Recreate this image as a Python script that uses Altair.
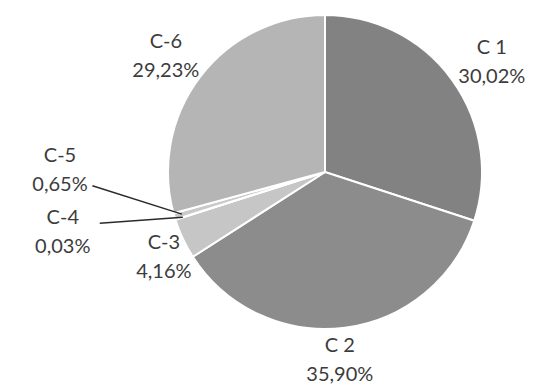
import math
import altair as alt
import pandas as pd

# ---- data ----
categories = ["C 1", "C 2", "C-3", "C-4", "C-5", "C-6"]
values = [30.02, 35.90, 4.16, 0.03, 0.65, 29.23]
value_labels = ["30,02%", "35,90%", "4,16%", "0,03%", "0,65%", "29,23%"]
colors = ["#828282", "#8c8c8c", "#c6c6c6", "#bdbdbd", "#cacaca", "#b5b5b5"]

# ---- layout ----
CX, CY = 317, 164          # pie centre inside the plot area
R = 157                    # pie radius
# label placement: (angle in degrees clockwise from top, distance from centre)
label_pos = {
    "C 1": (56.5, 200),
    "C 2": (175.5, 189),
    "C-3": (242.3, 182),
    "C-4": (257.1, 269),
    "C-5": (270.4, 265),
    "C-6": (306.1, 197),
}
# leader lines: label-side end (angle, distance from centre)
leader_start = {"C-4": (257.2, 231), "C-5": (266.6, 233)}

total = sum(values)
df = pd.DataFrame({"cat": categories, "val": values, "order": range(len(values))})

arcs = alt.Chart(df).mark_arc(stroke="white", strokeWidth=2).encode(
    theta=alt.Theta("val:Q", stack=True, scale=alt.Scale(domain=[0, total], range=[0, 2 * math.pi])),
    color=alt.Color("cat:N", scale=alt.Scale(domain=categories, range=colors), legend=None),
    order=alt.Order("order:Q"),
    x=alt.value(CX),
    y=alt.value(CY),
    radius=alt.value(R),
)

# labels
lab = pd.DataFrame({
    "cat": categories,
    "txt": [f"{c}\n{v}" for c, v in zip(categories, value_labels)],
    "ang": [label_pos[c][0] for c in categories],
    "dist": [label_pos[c][1] for c in categories],
})
texts = alt.Chart(lab).mark_text(
    font="Lato", fontSize=20, color="#3c3c3c", lineBreak="\n", lineHeight=29,
    align="center", baseline="middle", dy=-14,
).encode(
    theta=alt.Theta("ang:Q", stack=None, scale=alt.Scale(domain=[0, 360], range=[0, 2 * math.pi])),
    radius=alt.Radius("dist:Q", scale=alt.Scale(type="linear", domain=[0, 400], range=[0, 400])),
    text="txt:N",
    x=alt.value(CX),
    y=alt.value(CY),
)

# leader lines for C-4 and C-5, from label to slice edge
cum = 0.0
mid_angle = {}
for c, v in zip(categories, values):
    mid_angle[c] = (cum + v / 2) / total * 360
    cum += v
rows = []
for c in ["C-4", "C-5"]:
    a0, d0 = leader_start[c]
    a1 = mid_angle[c]
    for k, (a, d) in enumerate([(a0, d0), (a1, R * 0.95)]):
        rows.append({
            "cat": c, "k": k,
            "px": CX + d * math.sin(math.radians(a)),
            "py": CY - d * math.cos(math.radians(a)),
        })
lines_df = pd.DataFrame(rows)
W, H = 536, 377
lines = alt.Chart(lines_df).mark_line(color="#2a2a2a", strokeWidth=1.5).encode(
    x=alt.X("px:Q", scale=alt.Scale(domain=[0, W]), axis=None),
    y=alt.Y("py:Q", scale=alt.Scale(domain=[H, 0]), axis=None),
    detail="cat:N",
    order="k:Q",
)

chart = alt.layer(arcs, lines, texts).resolve_scale(
    theta="independent", radius="independent"
).properties(
    width=W, height=H, padding=0
).configure_view(stroke=None)

chart.save("out.html", embed_options={"renderer": "svg", "actions": False})
